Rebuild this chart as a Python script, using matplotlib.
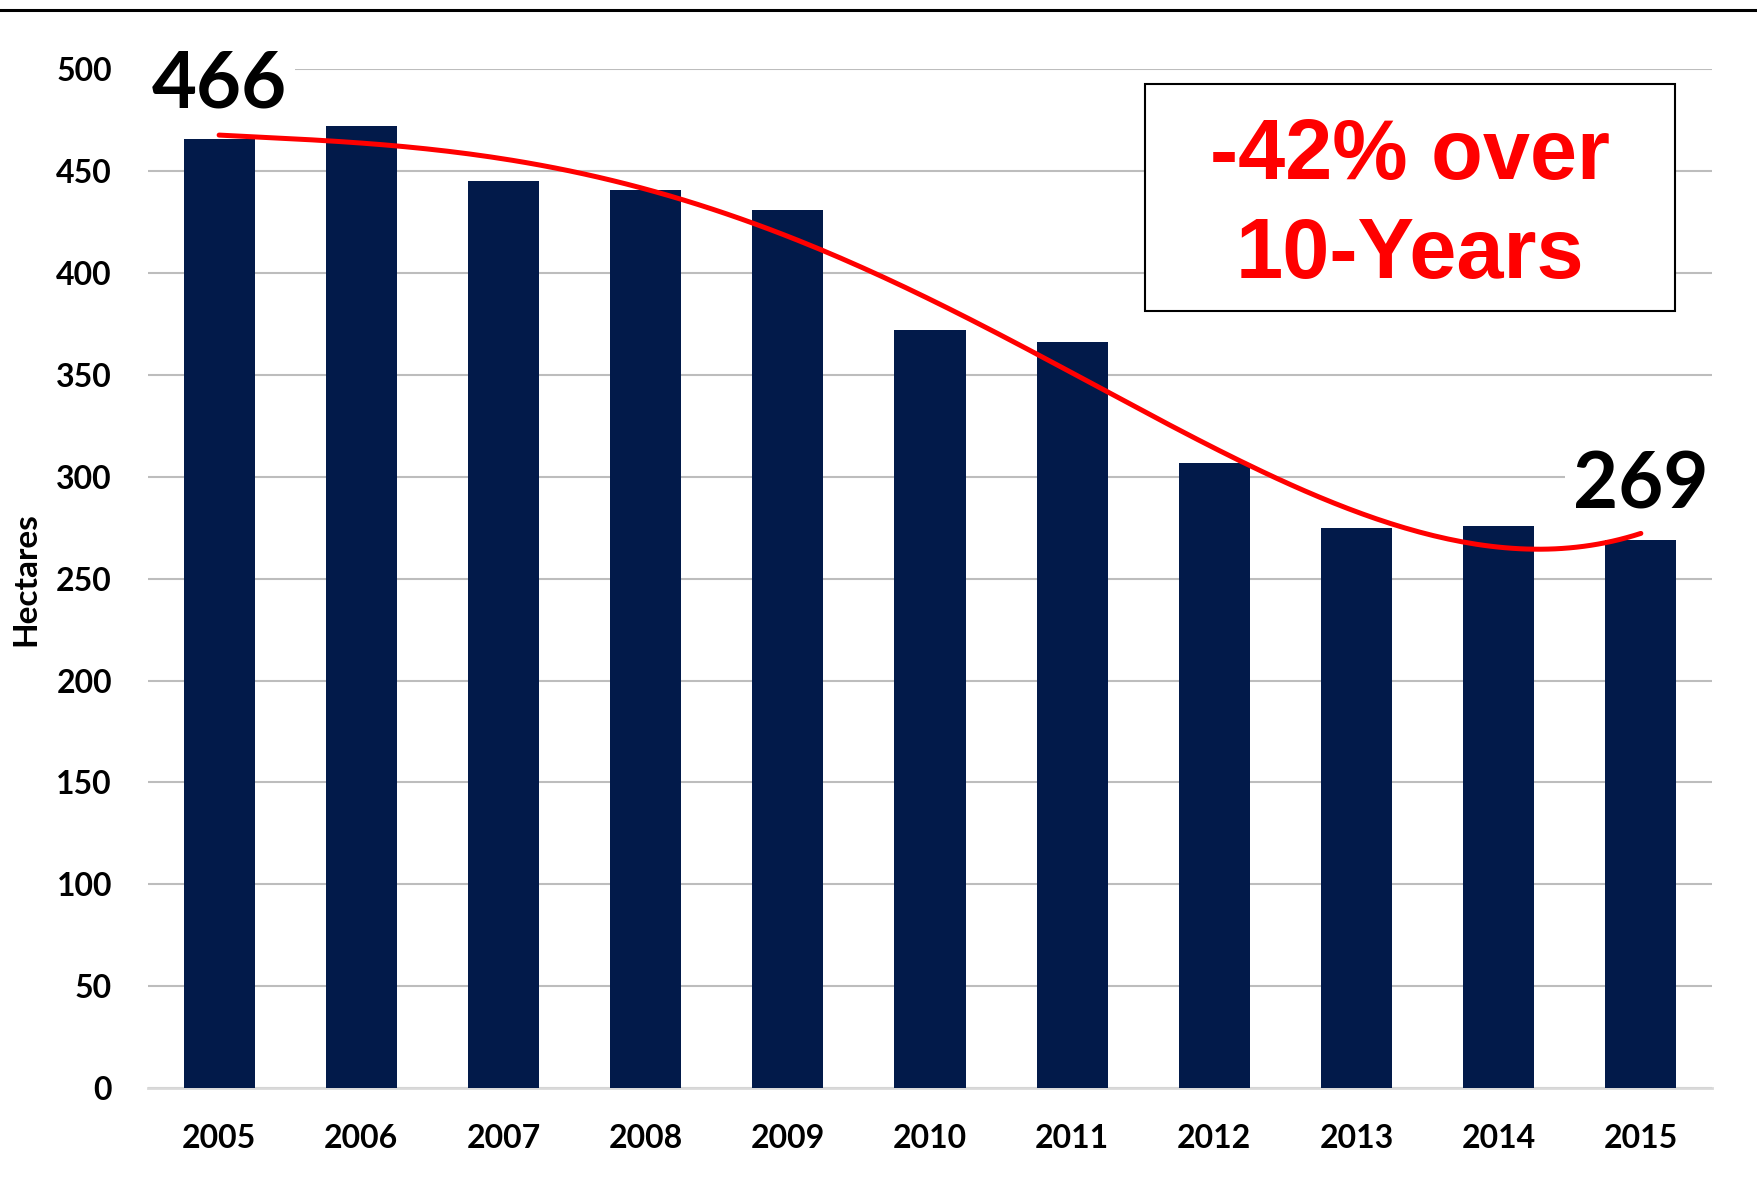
import numpy as np
import matplotlib

matplotlib.use('Agg')
import matplotlib.pyplot as plt
from matplotlib.patches import Rectangle
from matplotlib.lines import Line2D

years = ['2005', '2006', '2007', '2008', '2009', '2010', '2011', '2012', '2013', '2014', '2015']
hectares = [466, 472, 445, 441, 431, 372, 366, 307, 275, 276, 269]
y_ticks = [0, 50, 100, 150, 200, 250, 300, 350, 400, 450, 500]

bar_color = '#021a4a'
label_font = 'Lato'

fig = plt.figure(figsize=(17.58, 11.83), dpi=100)
ax = fig.add_axes([0.0842, 0.0803, 0.8896, 0.861])

x = np.arange(len(years))
ax.bar(x, hectares, width=0.5, color=bar_color, zorder=3)

# polynomial trendline (order 4) fitted to the bars
coef = np.polyfit(x, hectares, 4)
xs = np.linspace(0, len(years) - 1, 200)
ax.plot(xs, np.polyval(coef, xs), color='#ff0000', lw=3.6, zorder=4,
        solid_capstyle='round')

ax.set_xlim(-0.5, len(years) - 0.5)
ax.set_ylim(0, 500)
ax.set_yticks(y_ticks)
ax.set_xticks(x)
ax.set_xticklabels(years)
ax.yaxis.grid(True, color='#bdbdbd', lw=1.5, zorder=0)
ax.set_axisbelow(True)
for s in ['top', 'right', 'left']:
    ax.spines[s].set_visible(False)
ax.spines['bottom'].set_color('#d9d9d9')
ax.spines['bottom'].set_linewidth(2)
ax.tick_params(axis='both', length=0, labelsize=23)
ax.tick_params(axis='y', pad=26)
ax.tick_params(axis='x', pad=26)
for lab in ax.get_xticklabels() + ax.get_yticklabels():
    lab.set_fontweight('bold')
    lab.set_family(label_font)
ax.set_ylabel('Hectares', fontsize=24, fontweight='bold', family=label_font)
ax.yaxis.set_label_coords(-0.069, 0.5)

# end-point value labels
ax.text(0, 481.5, str(hectares[0]), ha='center', va='baseline', fontsize=56,
        fontweight='bold', family=label_font, zorder=6, clip_on=False,
        bbox=dict(facecolor='white', edgecolor='none', pad=6))
ax.text(len(years) - 1, 284.6, str(hectares[-1]), ha='center', va='baseline', fontsize=56,
        fontweight='bold', family=label_font, zorder=6, clip_on=False,
        bbox=dict(facecolor='white', edgecolor='none', pad=6))

# annotation box
fig.add_artist(Rectangle((0.6513, 0.7371), 0.3015, 0.1919, transform=fig.transFigure,
                         facecolor='white', edgecolor='black', lw=1.5, zorder=5))
fig.text(0.802, 0.8487, '-42% over', ha='center', va='baseline', color='#ff0000',
         fontsize=61, fontweight='bold', family='Liberation Sans', zorder=6)
fig.text(0.802, 0.765, '10-Years', ha='center', va='baseline', color='#ff0000',
         fontsize=61, fontweight='bold', family='Liberation Sans', zorder=6)

# black rule across the top
fig.add_artist(Line2D([0, 1], [0.9915, 0.9915], transform=fig.transFigure,
                      color='black', lw=2.2))

fig.savefig('out.png', dpi=100)
